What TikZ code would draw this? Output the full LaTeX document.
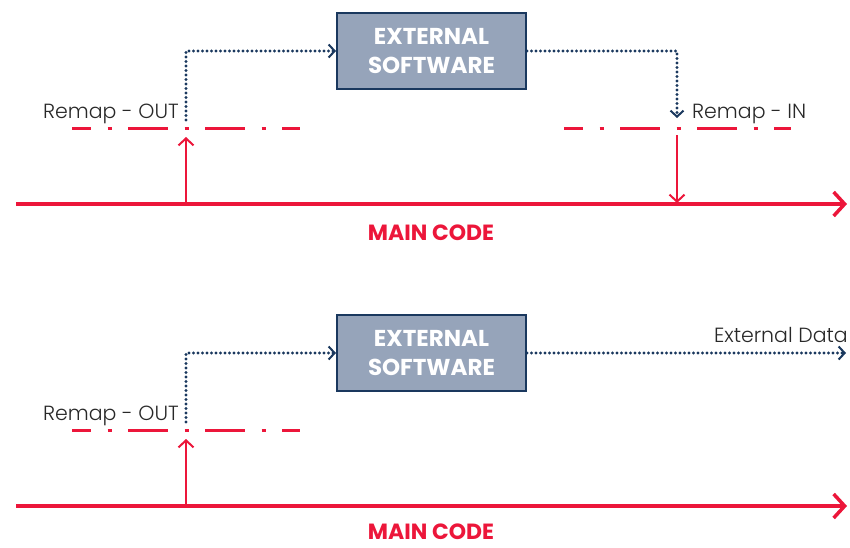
\documentclass[tikz,border=0pt]{standalone}
\usepackage{fontspec}
\setmainfont{Poppins}
\newfontfamily\lightfont{Poppins Light}
\usetikzlibrary{arrows.meta}
\definecolor{cred}{RGB}{236,22,58}
\definecolor{cnavy}{RGB}{26,56,94}
\definecolor{cbox}{RGB}{150,164,186}
\definecolor{ctext}{RGB}{40,40,40}
\tikzset{
  extbox/.style={draw=cnavy, line width=2pt, fill=cbox, minimum width=189pt, minimum height=76pt, inner sep=0pt, align=center, text=white, font=\fontsize{23}{28.5}\selectfont\bfseries},
  mainline/.style={draw=cred, line width=4.5pt, -{Straight Barb[length=11pt,width=24pt,line width=3.5pt]}},
  remapline/.style={draw=cred, line width=3pt, dash pattern=on 40pt off 16.5pt on 4pt off 16.5pt, dash phase=21pt},
  redarrow/.style={draw=cred, line width=2pt, -{Straight Barb[length=7pt,width=15pt,line width=2pt]}},
  dotflow/.style={draw=cnavy, line width=3.2pt, line cap=round, dash pattern=on 0pt off 4.5pt},
  dotflowarrow/.style={dotflow, -{Straight Barb[length=6pt,width=13pt,line width=2pt]}},
  lbl/.style={text=ctext, font=\lightfont\fontsize{20.5}{24}\selectfont, inner sep=0pt},
  maincode/.style={text=cred, font=\fontsize{22}{26}\selectfont\bfseries, inner sep=0pt, anchor=base}
}
\begin{document}
\begin{tikzpicture}[x=1pt,y=-1pt]
\useasboundingbox (0,0) rectangle (850,547);
% ---------- top panel ----------
\node[extbox] (box1) at (431.5,51) {EXTERNAL\\SOFTWARE};
\coordinate (m1s) at (16,204);
\coordinate (m1e) at (847,204);
\draw[mainline] (m1s) -- (m1e);
\node[maincode] (mc1) at (431,240) {MAIN CODE};
\coordinate (d1a) at (72,128); \coordinate (d1b) at (300,128);
\draw[remapline] (d1a) -- (d1b);
\coordinate (d2a) at (564,128); \coordinate (d2b) at (791,128);
\draw[remapline] (d2a) -- (d2b);
\coordinate (up1s) at (186,204); \coordinate (up1e) at (186,137);
\draw[redarrow] (up1s) -- (up1e);
\coordinate (dn1s) at (677,135); \coordinate (dn1e) at (677,203);
\draw[redarrow] (dn1s) -- (dn1e);
\coordinate (o1) at (186,120);
\draw[dotflowarrow] (o1) |- (box1.west);
\coordinate (i1) at (677,118);
\draw[dotflowarrow] (box1.east) -| (i1);
\node[lbl, anchor=base east] (ro1) at (179,118) {Remap - OUT};
\node[lbl, anchor=base west] (ri1) at (692,118) {Remap - IN};
% ---------- bottom panel ----------
\node[extbox] (box2) at (431.5,353) {EXTERNAL\\SOFTWARE};
\coordinate (m2s) at (16,506);
\coordinate (m2e) at (847,506);
\draw[mainline] (m2s) -- (m2e);
\node[maincode] (mc2) at (431,539.5) {MAIN CODE};
\coordinate (d3a) at (72,430); \coordinate (d3b) at (300,430);
\draw[remapline] (d3a) -- (d3b);
\coordinate (up2s) at (186,506); \coordinate (up2e) at (186,439);
\draw[redarrow] (up2s) -- (up2e);
\coordinate (o2) at (186,422);
\draw[dotflowarrow] (o2) |- (box2.west);
\coordinate (ext) at (846,353);
\draw[dotflowarrow] (box2.east) -- (ext);
\node[lbl, anchor=base east] (ro2) at (179,420) {Remap - OUT};
\node[lbl, anchor=base east] (ed) at (848,342) {External Data};
\end{tikzpicture}
\end{document}
